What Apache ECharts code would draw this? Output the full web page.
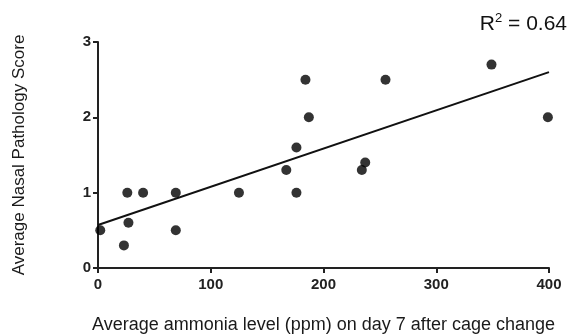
<!DOCTYPE html>
<html>
<head>
<meta charset="utf-8">
<script src="https://cdn.jsdelivr.net/npm/echarts@6/dist/echarts.min.js"></script>
<style>
  html, body { margin: 0; padding: 0; background: #fff; }
  #chart { width: 570px; height: 335px; }
</style>
</head>
<body>
<div id="chart"></div>
<script>
// ammonia (ppm) vs nasal pathology score
var ammonia = [2, 23, 26, 27, 40, 69, 69, 125, 167, 176, 176, 184, 187, 234, 237, 255, 349, 399];
var score   = [0.5, 0.3, 1.0, 0.6, 1.0, 1.0, 0.5, 1.0, 1.3, 1.6, 1.0, 2.5, 2.0, 1.3, 1.4, 2.5, 2.7, 2.0];
// fitted line endpoints
var fitX = [0, 400];
var fitY = [0.57, 2.6];
var xTicks = [0, 100, 200, 300, 400];
var yTicks = [0, 1, 2, 3];

var points = ammonia.map(function (x, i) { return [x, score[i]]; });
var fit = fitX.map(function (x, i) { return [x, fitY[i]]; });

var chart = echarts.init(document.getElementById('chart'));
var fontFam = 'Liberation Sans, Arial, sans-serif';
var axisFont = { color: '#222', fontSize: 15, fontWeight: 'bold', fontFamily: fontFam };

chart.setOption({
    animation: false,
    grid: { left: 98, right: 21, top: 42, bottom: 67, outerBoundsMode: 'none' },
    xAxis: {
        type: 'value',
        min: 0, max: 400, interval: 100,
        name: 'Average ammonia level (ppm) on day 7 after cage change',
        nameLocation: 'middle',
        nameGap: 48,
        nameTextStyle: { color: '#1a1a1a', fontSize: 18, fontFamily: fontFam },
        axisLine: { show: true, onZero: false, lineStyle: { color: '#222', width: 2 } },
        axisTick: { show: true, length: 5, lineStyle: { color: '#222', width: 2 } },
        axisLabel: Object.assign({ margin: 9, formatter: function (v) { return xTicks.indexOf(v) >= 0 ? v : ''; } }, axisFont),
        splitLine: { show: false }
    },
    yAxis: {
        type: 'value',
        min: 0, max: 3, interval: 1,
        name: 'Average Nasal Pathology Score',
        nameLocation: 'middle',
        nameGap: 70,
        nameTextStyle: { color: '#1a1a1a', fontSize: 17, fontFamily: fontFam },
        axisLine: { show: true, onZero: false, lineStyle: { color: '#222', width: 2 } },
        axisTick: { show: true, length: 5, lineStyle: { color: '#222', width: 2 } },
        axisLabel: Object.assign({ margin: 7, formatter: function (v) { return yTicks.indexOf(v) >= 0 ? v : ''; } }, axisFont),
        splitLine: { show: false }
    },
    graphic: [{
        type: 'text',
        right: 3,
        top: 12,
        style: {
            text: '{b|R}{s|2}{b| = 0.64}',
            rich: {
                b: { fontSize: 21, fill: '#111', fontFamily: fontFam, verticalAlign: 'bottom' },
                s: { fontSize: 13, fill: '#111', fontFamily: fontFam, verticalAlign: 'top', padding: [0, 0, 10, 0] }
            }
        }
    }],
    series: [
        {
            type: 'scatter',
            data: points,
            symbol: 'circle',
            symbolSize: 10,
            itemStyle: { color: '#000' },
            z: 3
        },
        {
            type: 'line',
            data: fit,
            symbol: 'none',
            lineStyle: { color: '#111', width: 2 },
            z: 2
        }
    ]
});
</script>
</body>
</html>
